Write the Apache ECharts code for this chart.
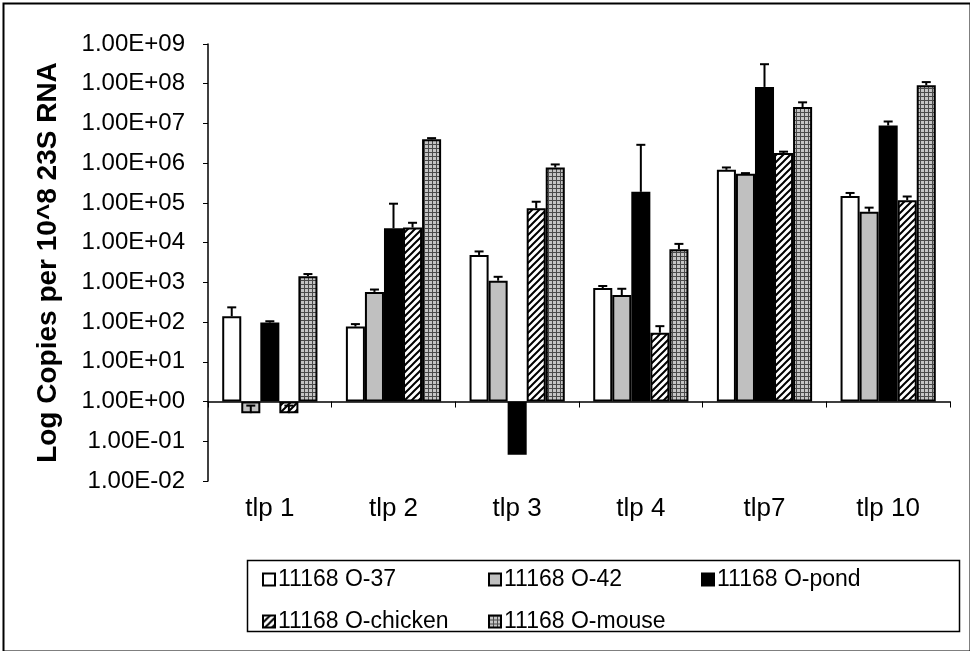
<!DOCTYPE html>
<html>
<head>
<meta charset="utf-8">
<script src="https://cdn.jsdelivr.net/npm/echarts@6/dist/echarts.min.js"></script>
<style>
html,body{margin:0;padding:0;background:#fff;}
#chart{width:970px;height:651px;}
</style>
</head>
<body>
<div id="chart"></div>
<script>
const categories = ['tlp 1', 'tlp 2', 'tlp 3', 'tlp 4', 'tlp7', 'tlp 10'];
const seriesNames = ['11168 O-37', '11168 O-42', '11168 O-pond', '11168 O-chicken', '11168 O-mouse'];
const tickExponents = [-2, -1, 0, 1, 2, 3, 4, 5, 6, 7, 8, 9];

const o37 = [140, 77, 4900, 720, 680000, 150000];
const o37Err = [235, 89, 6000, 810, 780000, 178000];
const o42 = [0.51, 575, 1100, 480, 540000, 60000];
const o42Err = [0.79, 660, 1380, 690, 562000, 76000];
const oPond = [97, 23000, 0.046, 190000, 83000000, 8900000];
const oPondErr = [105, 95500, null, 2900000, 310000000, 11200000];
const oChicken = [0.51, 24000, 73000, 54, 1800000, 117000];
const oChickenErr = [0.79, 31600, 107000, 79, 1950000, 145000];
const oMouse = [1430, 4000000, 780000, 6800, 26000000, 92000000];
const oMouseErr = [1620, 4270000, 930000, 9300, 34000000, 110000000];

const values = [o37, o42, oPond, oChicken, oMouse];
const errors = [o37Err, o42Err, oPondErr, oChickenErr, oMouseErr];

function makeHatch() {
  const n = 7;
  const c = document.createElement('canvas');
  c.width = n; c.height = n;
  const g = c.getContext('2d');
  g.fillStyle = '#fff'; g.fillRect(0, 0, n, n);
  g.strokeStyle = '#000'; g.lineWidth = 2;
  g.beginPath();
  g.moveTo(-1, n + 1); g.lineTo(n + 1, -1);
  g.moveTo(-1, 1); g.lineTo(1, -1);
  g.moveTo(n - 1, n + 1); g.lineTo(n + 1, n - 1);
  g.stroke();
  return c;
}
function makeGrid() {
  const n = 4;
  const c = document.createElement('canvas');
  c.width = n; c.height = n;
  const g = c.getContext('2d');
  g.fillStyle = '#c4c4c4'; g.fillRect(0, 0, n, n);
  g.fillStyle = '#4a4a4a';
  g.fillRect(0, 0, n, 1);
  g.fillRect(0, 0, 1, n);
  return c;
}

const fills = [
  '#ffffff',
  '#c0c0c0',
  '#000000',
  { image: makeHatch(), repeat: 'repeat' },
  { image: makeGrid(), repeat: 'repeat' }
];

const log10 = v => Math.log10(v);
const barCatGap = 0.23;
const nSeries = 5;

const series = [];
values.forEach((arr, i) => {
  series.push({
    name: seriesNames[i],
    type: 'bar',
    data: arr.map(log10),
    barGap: '0%',
    barCategoryGap: (barCatGap * 100) + '%',
    itemStyle: { color: fills[i], borderColor: '#000', borderWidth: 2 },
    emphasis: { disabled: true },
    z: 2
  });
});
values.forEach((arr, i) => {
  const data = [];
  arr.forEach((v, k) => {
    const e = errors[i][k];
    if (e != null) data.push([k, log10(e), log10(v)]);
  });
  series.push({
    type: 'custom',
    name: seriesNames[i] + ' err',
    data: data,
    encode: { x: 0, y: 1 },
    z: 5,
    silent: true,
    renderItem: function (params, api) {
      const cat = api.value(0);
      const top = api.coord([cat, api.value(1)]);
      const base = api.coord([cat, api.value(2)]);
      const catW = api.size([1, 0])[0];
      const barW = catW * (1 - barCatGap) / nSeries;
      const x = base[0] + (i - (nSeries - 1) / 2) * barW;
      const st = { stroke: '#000', lineWidth: 2 };
      return {
        type: 'group',
        children: [
          { type: 'line', shape: { x1: x, y1: base[1], x2: x, y2: top[1] }, style: st },
          { type: 'line', shape: { x1: x - 4.5, y1: top[1], x2: x + 4.5, y2: top[1] }, style: st }
        ]
      };
    }
  });
});

const legendPos = [
  { left: 257, top: 563 },
  { left: 483, top: 563 },
  { left: 696, top: 563 },
  { left: 257, top: 605 },
  { left: 483, top: 605 }
];
const legends = seriesNames.map((nm, i) => ({
  data: [nm],
  left: legendPos[i].left,
  top: legendPos[i].top,
  itemWidth: 12,
  itemHeight: 12,
  itemGap: 0,
  icon: 'rect',
  selectedMode: false,
  textStyle: { fontFamily: 'Liberation Sans, Arial', fontSize: 23, color: '#000', padding: [0, 0, 0, -2] }
}));

const option = {
  animation: false,
  backgroundColor: '#fff',
  grid: { left: 208, right: 20, top: 44, bottom: 170 },
  legend: legends,
  xAxis: {
    type: 'category',
    data: categories,
    axisLine: { onZero: true, lineStyle: { color: '#000', width: 1.5 } },
    axisTick: { show: true, length: 6, inside: false, alignWithLabel: false, lineStyle: { color: '#000', width: 1 } },
    axisLabel: { margin: 15, color: '#000', fontFamily: 'Liberation Sans, Arial', fontSize: 26 },
    splitLine: { show: false }
  },
  yAxis: {
    type: 'value',
    min: -2,
    max: 9,
    interval: 1,
    name: 'Log Copies per 10^8 23S RNA',
    nameLocation: 'middle',
    nameGap: 146,
    nameTextStyle: { fontFamily: 'Liberation Sans, Arial', fontWeight: 'bold', fontSize: 28, color: '#000' },
    axisLine: { show: true, lineStyle: { color: '#000', width: 1.5 } },
    axisTick: { show: true, length: 5, lineStyle: { color: '#000', width: 1 } },
    axisLabel: {
      margin: 23,
      color: '#000',
      fontFamily: 'Liberation Sans, Arial',
      fontSize: 24,
      formatter: function (v) {
        if (tickExponents.indexOf(v) < 0) return '';
        const a = Math.abs(v);
        return '1.00E' + (v < 0 ? '-' : '+') + (a < 10 ? '0' + a : '' + a);
      }
    },
    splitLine: { show: false }
  },
  graphic: [
    { type: 'rect', left: 1, top: 1, shape: { width: 967, height: 648 }, style: { fill: 'none', stroke: '#000', lineWidth: 2 }, silent: true },
    { type: 'rect', left: 245, top: 558, shape: { width: 712, height: 71 }, style: { fill: 'none', stroke: '#000', lineWidth: 1.5 }, silent: true, z: -1 }
  ],
  series: series
};

const chart = echarts.init(document.getElementById('chart'), null, { renderer: 'canvas' });
chart.setOption(option);
</script>
</body>
</html>
